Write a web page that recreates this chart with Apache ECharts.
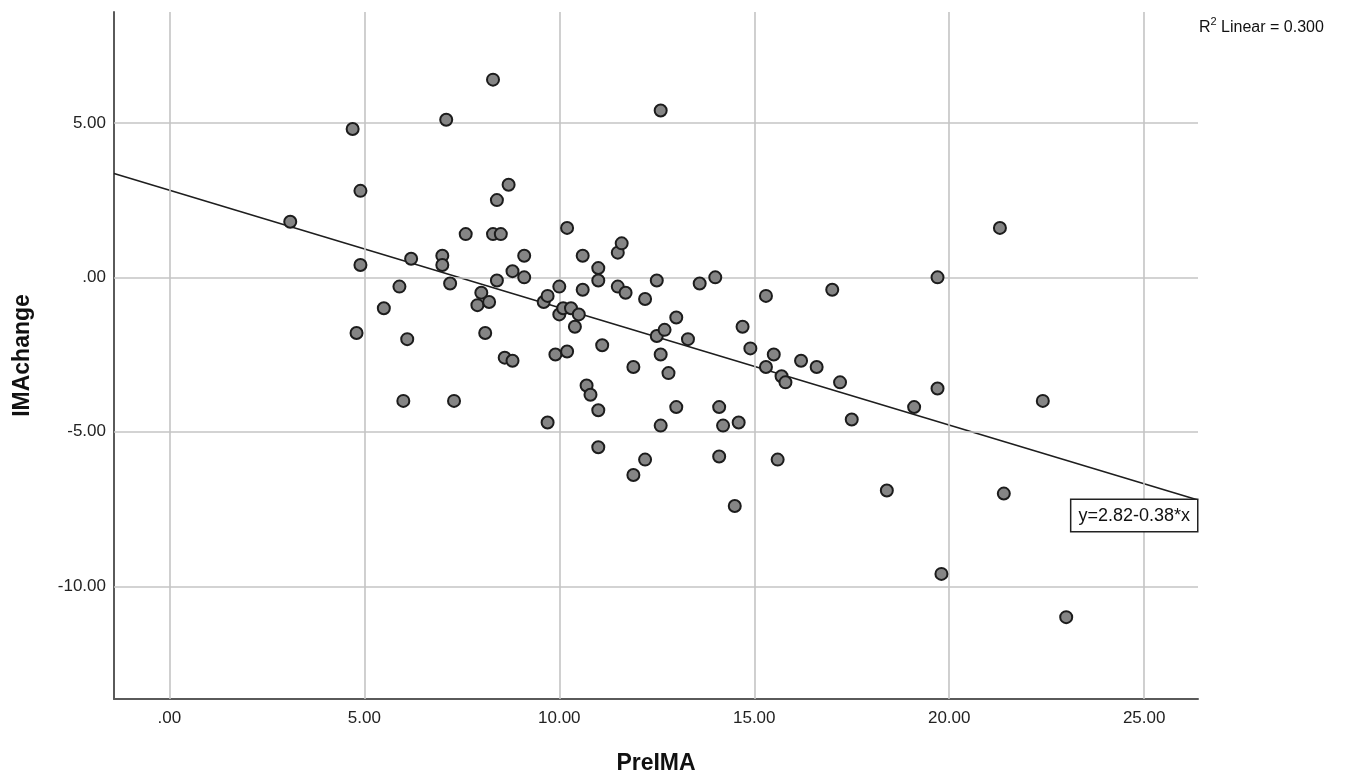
<!DOCTYPE html>
<html><head><meta charset="utf-8">
<script src="https://cdn.jsdelivr.net/npm/echarts@6/dist/echarts.min.js"></script>
<style>html,body{margin:0;padding:0;background:#fff}#c{width:1351px;height:780px}</style>
</head><body><div id="c"></div>
<script>
// ---- data ----
const preIMA = [
  3.1, 4.7, 4.9, 4.9, 4.8, 5.5, 5.9, 6.0, 6.1, 6.2,
  7.0, 7.0, 7.1, 7.2, 7.3, 7.6, 7.9, 8.0, 8.2, 8.1,
  8.3, 8.3, 8.5, 8.4, 8.4, 8.7, 8.8, 8.6, 8.8, 9.1,
  9.1, 9.6, 9.7, 9.7, 10.0, 10.0, 10.1, 10.3, 10.5, 10.4,
  9.9, 10.2, 10.2, 10.6, 10.6, 11.0, 11.0, 11.5, 11.6, 11.5,
  11.7, 11.1, 10.7, 10.8, 11.0, 11.0, 11.9, 11.9, 12.2, 12.2,
  12.5, 12.6, 12.5, 12.7, 13.0, 13.3, 12.6, 12.8, 13.0, 12.6,
  13.6, 14.0, 14.1, 14.2, 14.6, 14.1, 14.5, 14.7, 14.9, 15.3,
  15.3, 15.5, 15.7, 15.8, 15.6, 16.2, 16.6, 17.0, 17.2, 17.5,
  18.4, 19.1, 19.7, 19.7, 19.8, 21.3, 21.4, 22.4, 23.0
];
const imaChange = [
  1.8, 4.8, 2.8, 0.4, -1.8, -1.0, -0.3, -4.0, -2.0, 0.6,
  0.7, 0.4, 5.1, -0.2, -4.0, 1.4, -0.9, -0.5, -0.8, -1.8,
  6.4, 1.4, 1.4, 2.5, -0.1, 3.0, 0.2, -2.6, -2.7, 0.7,
  0.0, -0.8, -0.6, -4.7, -0.3, -1.2, -1.0, -1.0, -1.2, -1.6,
  -2.5, -2.4, 1.6, 0.7, -0.4, 0.3, -0.1, 0.8, 1.1, -0.3,
  -0.5, -2.2, -3.5, -3.8, -4.3, -5.5, -2.9, -6.4, -0.7, -5.9,
  -0.1, 5.4, -1.9, -1.7, -1.3, -2.0, -2.5, -3.1, -4.2, -4.8,
  -0.2, 0.0, -4.2, -4.8, -4.7, -5.8, -7.4, -1.6, -2.3, -0.6,
  -2.9, -2.5, -3.2, -3.4, -5.9, -2.7, -2.9, -0.4, -3.4, -4.6,
  -6.9, -4.2, 0.0, -3.6, -9.6, 1.6, -7.0, -4.0, -11.0
];
const xTickValues = [0, 5, 10, 15, 20, 25];
const xTickLabels = ['.00', '5.00', '10.00', '15.00', '20.00', '25.00'];
const yTickValues = [-10, -5, 0, 5];
const yTickLabels = ['-10.00', '-5.00', '.00', '5.00'];
const fitIntercept = 2.82;
const fitSlope = -0.38;
const fitText = 'y=2.82-0.38*x';
const r2Value = '0.300';
const xName = 'PreIMA';
const yName = 'IMAchange';
const xRange = [-1.42, 26.38];
const yRange = [-13.65, 8.59];

// ---- build chart ----
const FONT = '"Liberation Sans", Arial, sans-serif';
const points = preIMA.map((x, i) => [x, imaChange[i]]);
const fitLine = [
  [xRange[0], fitIntercept + fitSlope * xRange[0]],
  [xRange[1], fitIntercept + fitSlope * xRange[1]]
];
function labelFor(values, labels) {
  return v => {
    const i = values.findIndex(t => Math.abs(t - v) < 1e-6);
    return i >= 0 ? labels[i] : '';
  };
}
const gridLineData = xTickValues.map(v => ({ xAxis: v }))
  .concat(yTickValues.map(v => ({ yAxis: v })));

const chart = echarts.init(document.getElementById('c'), null, { renderer: 'canvas' });
chart.setOption({
  animation: false,
  backgroundColor: '#ffffff',
  grid: { left: 114, right: 153, top: 12, bottom: 80, containLabel: false },
  xAxis: {
    type: 'value', min: xRange[0], max: xRange[1],
    name: xName, nameLocation: 'middle', nameGap: 53,
    nameTextStyle: { fontFamily: FONT, fontSize: 23, fontWeight: 'bold', color: '#111' },
    axisLine: { show: true, onZero: false, lineStyle: { color: '#5a5a5a', width: 2 } },
    axisTick: { show: false },
    splitLine: { show: false },
    axisLabel: {
      customValues: xTickValues,
      formatter: labelFor(xTickValues, xTickLabels),
      fontFamily: FONT, fontSize: 17, color: '#222', margin: 11,
      showMinLabel: true, showMaxLabel: true
    }
  },
  yAxis: {
    type: 'value', min: yRange[0], max: yRange[1],
    name: yName, nameLocation: 'middle', nameGap: 80,
    nameTextStyle: { fontFamily: FONT, fontSize: 23, fontWeight: 'bold', color: '#111' },
    axisLine: { show: true, onZero: false, lineStyle: { color: '#5a5a5a', width: 2 } },
    axisTick: { show: false },
    splitLine: { show: false },
    axisLabel: {
      customValues: yTickValues,
      formatter: labelFor(yTickValues, yTickLabels),
      fontFamily: FONT, fontSize: 17, color: '#222', margin: 8
    }
  },
  series: [
    {
      type: 'line', name: 'grid', data: [], zlevel: 0, z: 1,
      markLine: {
        silent: true, symbol: ['none', 'none'], animation: false,
        label: { show: false },
        lineStyle: { color: '#c4c4c4', width: 1.6, type: 'solid' },
        emphasis: { disabled: true },
        data: gridLineData
      }
    },
    {
      type: 'line', name: 'fit', data: fitLine, zlevel: 0, z: 3,
      showSymbol: false, symbol: 'none', silent: true,
      lineStyle: { color: '#1e1e1e', width: 1.6 }
    },
    {
      type: 'scatter', name: 'points', data: points, zlevel: 1, z: 5,
      symbol: 'circle', symbolSize: 12,
      itemStyle: { color: '#858585', borderColor: '#1c1c1c', borderWidth: 2, opacity: 1 }
    }
  ]
});

const endPx = chart.convertToPixel({ gridIndex: 0 }, fitLine[1]);
const gridRect = chart.getModel().getComponent('grid', 0).coordinateSystem.getRect();
chart.setOption({
  graphic: [
    {
      type: 'text', zlevel: 2, z: 10,
      x: endPx[0] - 1, y: endPx[1],
      style: {
        text: fitText, align: 'right', verticalAlign: 'top',
        fontFamily: FONT, fontSize: 18, fill: '#111',
        backgroundColor: '#fff', borderColor: '#222', borderWidth: 1.5,
        padding: [7, 7, 6, 7]
      }
    },
    {
      type: 'text', zlevel: 2, z: 10,
      x: gridRect.x + gridRect.width + 1, y: 16,
      style: {
        text: '{a|R}{s|2}{a| Linear = ' + r2Value + '}',
        fontFamily: FONT, fill: '#111',
        rich: {
          a: { fontFamily: FONT, fontSize: 16, lineHeight: 20, fill: '#111', verticalAlign: 'bottom' },
          s: { fontFamily: FONT, fontSize: 11, lineHeight: 20, fill: '#111', verticalAlign: 'top', padding: [0, 0, 6, 0] }
        }
      }
    }
  ]
});
</script>
</body></html>
